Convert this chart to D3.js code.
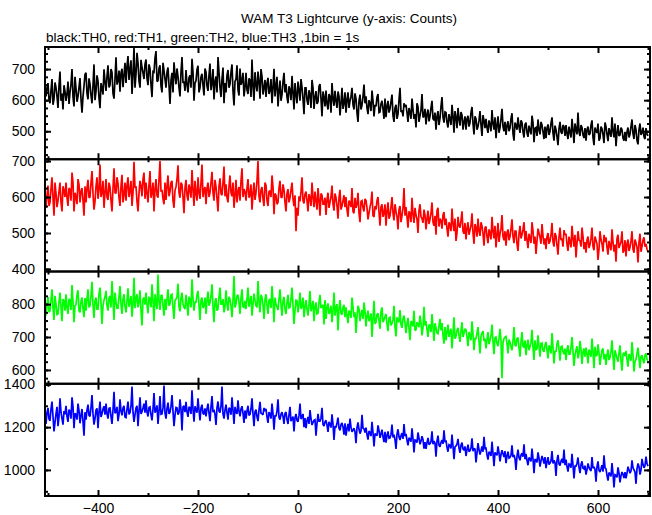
<!DOCTYPE html>
<html><head><meta charset="utf-8">
<script src="https://cdn.jsdelivr.net/npm/d3@7"></script>
<style>body{margin:0;background:#fff}</style>
</head><body><svg id="c" width="652" height="515"></svg>
<script>
const titleText = "WAM T3 Lightcurve (y-axis: Counts)";
const subtitleText = "black:TH0, red:TH1, green:TH2, blue:TH3 ,1bin = 1s";
const binStart = -504, binStep = 2;
const xMajorTicks = [-400, -200, 0, 200, 400, 600];
const xMinorTicks = [-500, -300, -100, 100, 300, 500, 700];

const th0 = [
612,640,655,601,590,632,668,585,603,657,640,612,575,646,692,598,621,570,648,628,
598,620,660,588,625,652,700,610,580,675,637,595,612,641,671,603,560,612,645,683,
688,622,603,670,652,615,590,648,715,600,628,680,661,607,574,655,640,618,699,660,
630,676,712,641,648,700,689,622,605,668,738,650,662,695,627,688,701,642,680,720,
655,710,742,665,698,728,620,681,771,640,684,752,719,662,640,730,705,688,668,715,
731,670,648,715,702,650,610,692,690,735,758,660,663,702,712,645,625,720,695,668,
640,690,705,648,588,665,688,625,722,680,651,702,676,640,612,690,739,655,660,630,
697,650,625,672,680,640,733,690,598,655,662,698,711,625,640,675,685,648,615,702,
690,645,630,680,718,632,655,700,602,660,676,625,739,690,641,610,668,705,590,655,
625,680,697,640,652,690,715,630,583,660,668,712,633,615,702,650,660,688,612,640,
688,632,620,670,664,610,731,645,598,690,650,628,692,660,605,700,676,618,640,665,
610,655,672,620,631,668,590,640,701,612,645,675,580,630,663,598,618,660,688,625,
652,610,590,645,633,600,678,625,570,655,618,590,660,632,598,668,641,605,555,640,
640,600,585,632,618,575,665,640,572,610,629,588,595,645,652,605,548,628,610,580,
631,588,570,620,612,560,655,605,582,630,598,575,628,612,551,590,640,572,590,625,
560,600,625,575,598,612,640,585,570,622,605,560,530,598,618,570,584,612,650,590,
612,575,555,600,590,565,631,598,548,585,580,610,620,560,562,588,598,572,540,605,
545,580,598,560,572,595,618,550,530,575,585,540,555,600,640,562,568,548,590,578,
585,560,530,575,562,540,605,570,540,555,512,590,578,530,550,568,620,545,548,572,
522,555,570,532,548,575,598,540,535,560,505,548,565,520,542,580,610,545,528,562,
560,528,512,555,540,520,585,548,495,565,545,510,575,540,518,562,552,505,530,548,
505,540,550,515,528,560,578,525,490,548,540,505,515,535,565,520,485,552,535,510,
540,512,495,535,522,500,568,525,505,545,478,520,548,495,512,540,572,515,500,530,
488,518,532,500,510,540,558,492,470,528,520,505,545,515,495,535,528,498,480,522,
528,495,482,518,505,490,550,528,465,510,512,485,538,505,490,530,520,498,475,515,
478,510,522,488,500,525,545,495,470,518,505,482,455,508,530,498,492,520,515,485,
520,492,475,515,498,480,540,505,462,525,505,490,560,498,485,520,512,488,478,510,
470,505,515,488,492,520,535,480,455,512,500,495,525,470,478,515,508,490,462,528,
515,490,468,510,495,482,545,500,480,525,452,495,520,485,488,512,505,478,470,498,
468,498,512,480,490,515,538,492,475,520,505,470,458,505,525,488,495,512,482,475,
510,492,485];

const th1 = [
570,605,632,575,585,622,655,598,548,640,610,572,590,615,640,585,560,630,618,600,
640,598,575,625,620,590,668,640,560,612,602,580,650,635,585,615,625,590,548,630,
585,625,648,598,600,640,672,610,565,588,630,655,595,620,690,600,612,645,570,612,
650,600,592,640,628,590,560,625,680,612,610,655,638,598,575,630,662,585,605,640,
590,632,655,600,618,645,575,612,698,625,630,588,560,610,645,630,602,650,668,595,
640,610,585,635,672,598,612,640,560,622,650,605,598,648,700,615,620,595,580,640,
592,630,660,602,615,640,645,590,570,618,628,650,688,612,598,640,635,600,555,625,
648,605,590,635,622,598,675,620,575,645,610,590,655,612,595,640,690,600,618,628,
580,625,640,600,612,640,670,612,590,648,628,595,560,630,652,610,605,640,685,602,
635,598,585,630,660,612,602,640,570,605,648,585,615,628,590,645,680,600,622,615,
590,625,650,598,605,635,565,610,640,592,612,645,700,602,585,620,628,595,575,640,
632,590,575,615,618,600,660,628,552,610,605,580,585,625,645,600,598,635,620,585,
560,610,622,585,598,620,640,595,575,605,505,570,548,602,588,615,655,590,582,608,
615,590,560,608,598,575,640,600,572,615,590,565,625,592,548,610,605,580,580,598,
550,592,612,570,585,600,632,580,562,610,598,575,540,598,620,565,575,590,605,572,
600,565,545,590,585,572,625,560,555,598,570,580,612,555,530,588,590,570,560,595,
590,570,538,555,572,585,615,548,545,575,565,590,600,558,520,572,580,545,555,580,
520,560,585,540,548,572,600,555,535,580,560,545,510,565,575,530,548,570,625,548,
572,545,515,560,555,530,598,552,528,570,550,538,500,562,580,545,540,528,565,550,
510,540,562,525,538,555,585,530,520,548,495,562,570,518,540,535,512,550,558,522,
540,512,490,530,522,505,568,525,505,540,478,500,545,520,515,535,560,505,498,528,
482,512,530,495,508,520,555,500,470,525,515,490,540,505,492,530,520,498,465,515,
518,490,472,510,500,482,545,505,485,520,460,495,528,475,498,512,550,490,480,505,
465,500,510,480,490,512,538,490,472,505,505,470,450,498,520,485,495,510,530,478,
505,480,458,498,485,472,530,505,470,490,442,478,512,500,488,470,525,492,468,485,
455,490,500,470,478,495,528,475,462,500,492,465,440,488,515,480,485,462,508,495,
498,468,450,490,475,460,520,485,462,495,432,472,505,480,478,462,515,490,455,475,
445,480,490,458,468,485,515,462,452,490,480,470,425,455,505,482,470,448,495,475,
488,460,440,478,465,452,510,475,448,468,420,485,495,458,468,475,505,445,452,480,
435,470,482,450,460,478,505,455,445,482,472,460,418,475,498,448,462,480,488,462,
470,455,448];

const th2 = [
765,798,822,775,780,812,845,790,752,825,800,768,770,805,835,792,748,815,810,780,
830,790,770,815,812,782,858,805,745,795,798,828,842,780,775,808,820,785,760,818,
780,815,845,790,795,825,868,798,758,810,820,785,785,830,850,805,740,795,812,822,
840,795,780,818,825,790,870,812,752,835,808,788,788,822,855,800,770,815,830,792,
775,810,848,792,805,825,762,800,880,788,815,830,790,805,842,780,735,815,820,798,
835,798,772,820,818,790,860,812,748,830,805,785,890,808,782,825,828,795,765,815,
782,815,845,795,800,828,830,788,755,810,815,822,862,792,778,818,835,800,790,785,
828,800,765,822,812,790,875,815,780,805,805,828,840,795,752,812,820,788,795,820,
770,812,838,795,805,825,860,790,745,808,818,780,785,822,850,800,800,815,775,792,
842,800,780,822,815,795,760,812,885,790,800,825,828,805,770,818,845,792,790,810,
785,815,850,792,808,825,765,800,832,812,795,790,870,808,775,828,820,798,755,815,
830,795,770,812,815,788,855,808,745,820,800,792,782,815,845,798,765,810,822,785,
770,805,828,788,790,815,850,795,740,780,812,810,775,798,835,785,795,820,760,790,
812,785,765,800,840,778,790,810,748,792,805,770,772,805,828,788,795,798,738,812,
755,790,802,770,778,795,745,780,835,765,790,800,720,785,812,772,768,790,798,760,
790,765,742,780,775,758,820,790,760,775,712,762,795,785,748,770,782,755,805,778,
732,765,780,748,758,772,700,755,810,740,745,768,772,750,725,778,790,745,752,762,
770,740,718,758,760,735,742,752,795,730,702,760,750,745,782,738,728,755,765,742,
712,740,758,725,690,748,745,732,780,720,722,745,738,730,765,742,705,728,792,735,
748,722,700,738,735,715,770,730,688,742,728,712,710,735,755,720,742,705,680,730,
690,715,738,700,715,725,665,708,760,695,702,720,728,705,685,718,745,700,712,725,
722,700,672,715,705,690,748,708,660,695,695,712,730,688,650,702,712,718,688,695,
665,692,715,678,690,705,738,685,648,698,700,680,672,695,725,690,575,682,695,700,
702,680,650,692,685,670,660,688,730,675,672,695,698,668,640,685,715,672,668,690,
645,675,692,660,670,682,722,668,630,690,660,665,705,672,640,680,682,660,655,675,
685,660,635,675,668,650,712,668,620,658,655,680,690,662,628,670,672,655,648,665,
630,660,675,648,648,668,700,655,612,645,660,672,635,650,688,662,618,655,665,640,
668,650,620,662,652,640,695,655,605,670,642,645,678,652,615,640,660,665,632,648,
615,645,662,630,638,655,690,640,600,660,648,635,625,650,675,628,598,648,652,642,
658,632,610,648,640,628,685,645,595,625,632,650,668,635,605,640,645,630,620,645,
650,632,628];

const th3 = [
1215,1268,1290,1238,1230,1285,1320,1250,1180,1222,1262,1295,1205,1248,1335,1270,1240,1212,1275,1260,
1300,1250,1225,1282,1275,1240,1340,1295,1195,1265,1260,1235,1310,1278,1218,1255,1285,1225,1160,1270,
1235,1280,1305,1255,1250,1292,1350,1262,1212,1240,1280,1288,1195,1270,1320,1248,1262,1285,1298,1258,
1310,1262,1240,1288,1290,1250,1215,1280,1365,1265,1270,1295,1228,1258,1330,1275,1255,1290,1300,1248,
1245,1285,1320,1260,1268,1298,1390,1270,1225,1258,1290,1300,1205,1275,1340,1262,1272,1290,1310,1268,
1325,1270,1250,1292,1295,1258,1232,1285,1360,1268,1278,1302,1215,1275,1345,1260,1262,1290,1395,1265,
1240,1288,1315,1262,1270,1298,1350,1275,1205,1255,1292,1290,1258,1268,1330,1282,1185,1295,1300,1270,
1318,1272,1248,1295,1290,1262,1372,1285,1225,1298,1280,1268,1335,1280,1232,1290,1305,1265,1260,1288,
1250,1285,1310,1265,1228,1295,1345,1270,1282,1260,1210,1290,1320,1275,1268,1298,1390,1262,1240,1280,
1305,1268,1235,1290,1285,1258,1340,1280,1215,1295,1270,1262,1325,1275,1250,1285,1298,1265,1220,1278,
1240,1275,1300,1255,1260,1285,1335,1262,1205,1272,1282,1248,1228,1280,1318,1265,1262,1258,1290,1275,
1285,1248,1220,1270,1262,1240,1310,1262,1188,1255,1250,1275,1330,1245,1235,1260,1270,1250,1215,1265,
1270,1235,1215,1258,1295,1228,1238,1250,1180,1245,1262,1232,1225,1255,1310,1238,1248,1262,1200,1242,
1195,1230,1248,1215,1280,1240,1210,1222,1232,1235,1160,1218,1262,1228,1228,1242,1290,1212,1205,1225,
1232,1210,1178,1225,1215,1198,1260,1215,1140,1205,1198,1220,1245,1195,1185,1212,1220,1200,1165,1218,
1160,1192,1215,1180,1240,1200,1178,1185,1195,1178,1125,1198,1222,1190,1170,1182,1258,1195,1192,1175,
1198,1165,1142,1182,1175,1158,1225,1175,1110,1170,1165,1160,1208,1185,1150,1168,1188,1155,1130,1178,
1128,1160,1180,1148,1150,1165,1212,1152,1165,1142,1098,1168,1190,1155,1140,1160,1172,1145,1215,1158,
1168,1138,1115,1150,1145,1132,1195,1145,1082,1140,1138,1128,1175,1148,1120,1135,1158,1142,1100,1130,
1098,1128,1150,1118,1122,1132,1180,1120,1135,1125,1062,1135,1160,1115,1108,1128,1140,1122,1185,1130,
1138,1105,1085,1118,1115,1100,1165,1112,1050,1108,1112,1120,1145,1102,1080,1115,1128,1098,1092,1110,
1065,1095,1118,1085,1090,1102,1148,1088,1100,1098,1035,1080,1125,1095,1072,1090,1110,1085,1155,1100,
1102,1070,1048,1085,1080,1065,1132,1078,1018,1082,1075,1068,1110,1080,1040,1072,1092,1075,1060,1088,
1032,1065,1085,1055,1058,1068,1115,1060,1070,1052,1000,1065,1095,1058,1045,1070,1078,1062,1120,1050,
1075,1045,1022,1058,1050,1040,1100,1052,985,1048,1048,1035,1082,1055,1015,1042,1065,1050,1030,1060,
1008,1038,1060,1025,1032,1042,1088,1030,1045,1035,972,1045,1070,1028,1020,1040,1052,1032,1095,1022,
1048,1015,992,1028,1025,1010,1075,1022,960,1018,1018,1030,1058,1012,985,1025,1040,1008,1005,1020,
978,1000,1030,1012,1002,995,1060,1008,1015,1002,945,1015,1040,998,990,1005,1022,992,1068,1010,
1005,975,950,988,980,970,1032,982,918,978,975,965,1012,985,942,972,990,980,962,990,
960,985,1015,1000,985,995,1045,1010,1000,990,935,1005,1030,1015,978,1000,1052,1025,1010,1020,
1062,1030,1018];

const seriesColors = ["#000000", "#ff0000", "#00ff00", "#0000ff"];
const yDomains = [[410, 771], [393, 705], [558, 899], [878, 1403]];
const yMajorTicks = [[500, 600, 700], [400, 500, 600, 700], [600, 700, 800], [1000, 1200, 1400]];
const yMinorTicks = [
  d3.range(425, 771, 25),
  d3.range(400, 705, 25),
  d3.range(575, 899, 25),
  d3.range(900, 1403, 100)
];
const seriesValues = [th0, th1, th2, th3];

const svg = d3.select("#c");
const font = "'Liberation Sans', Arial, Helvetica, sans-serif";
const L = 45, R = 650, T0 = 47, PH = 112.25;

const x = d3.scaleLinear().domain([-506, 704]).range([L, R]);

svg.append("text").attr("x", 349).attr("y", 23).attr("text-anchor", "middle")
  .attr("font-family", font).attr("font-size", 13.5).text(titleText);
svg.append("text").attr("x", 46).attr("y", 42)
  .attr("font-family", font).attr("font-size", 13.5).text(subtitleText);

function styleAxis(g) {
  g.select(".domain").remove();
  g.selectAll(".tick line").attr("stroke", "#000").attr("stroke-width", 2);
  g.selectAll(".tick text").attr("font-family", font).attr("font-size", 14).attr("fill", "#000");
}

seriesValues.forEach((vals, p) => {
  const top = T0 + p * PH, bot = top + PH;
  const y = d3.scaleLinear().domain(yDomains[p]).range([bot, top]);
  const g = svg.append("g");

  svg.append("clipPath").attr("id", "clip" + p)
    .append("rect").attr("x", L).attr("y", top).attr("width", R - L).attr("height", PH);

  const pts = vals.map((v, i) => [binStart + i * binStep, v]);
  const line = d3.line().x(d => x(d[0])).y(d => y(d[1]));
  g.append("path").attr("d", line(pts)).attr("fill", "none")
    .attr("stroke", seriesColors[p]).attr("stroke-width", 1.7)
    .attr("stroke-linejoin", "miter").attr("stroke-miterlimit", 2)
    .attr("clip-path", "url(#clip" + p + ")");

  g.append("g").attr("transform", `translate(${L},0)`)
    .call(d3.axisLeft(y).tickValues(yMinorTicks[p]).tickSize(-3).tickFormat("")).call(styleAxis);
  g.append("g").attr("transform", `translate(${L},0)`)
    .call(d3.axisLeft(y).tickValues(yMajorTicks[p]).tickSize(-6).tickPadding(10).tickFormat(d3.format("d"))).call(styleAxis);
  g.append("g").attr("transform", `translate(${R},0)`)
    .call(d3.axisRight(y).tickValues(yMinorTicks[p]).tickSize(-3).tickFormat("")).call(styleAxis);
  g.append("g").attr("transform", `translate(${R},0)`)
    .call(d3.axisRight(y).tickValues(yMajorTicks[p]).tickSize(-6).tickFormat("")).call(styleAxis);

  g.append("g").attr("transform", `translate(0,${top})`)
    .call(d3.axisTop(x).tickValues(xMinorTicks).tickSize(-3).tickFormat("")).call(styleAxis);
  g.append("g").attr("transform", `translate(0,${top})`)
    .call(d3.axisTop(x).tickValues(xMajorTicks).tickSize(-6).tickFormat("")).call(styleAxis);
  g.append("g").attr("transform", `translate(0,${bot})`)
    .call(d3.axisBottom(x).tickValues(xMinorTicks).tickSize(-3).tickFormat("")).call(styleAxis);
  const last = p === seriesValues.length - 1;
  g.append("g").attr("transform", `translate(0,${bot})`)
    .call(d3.axisBottom(x).tickValues(xMajorTicks).tickSize(-6).tickPadding(7)
      .tickFormat(last ? (d => d < 0 ? "\u2212" + Math.abs(d) : String(d)) : ""))
    .call(styleAxis);

  g.append("rect").attr("x", L).attr("y", top).attr("width", R - L).attr("height", PH)
    .attr("fill", "none").attr("stroke", "#000").attr("stroke-width", 2);
});
</script></body></html>
